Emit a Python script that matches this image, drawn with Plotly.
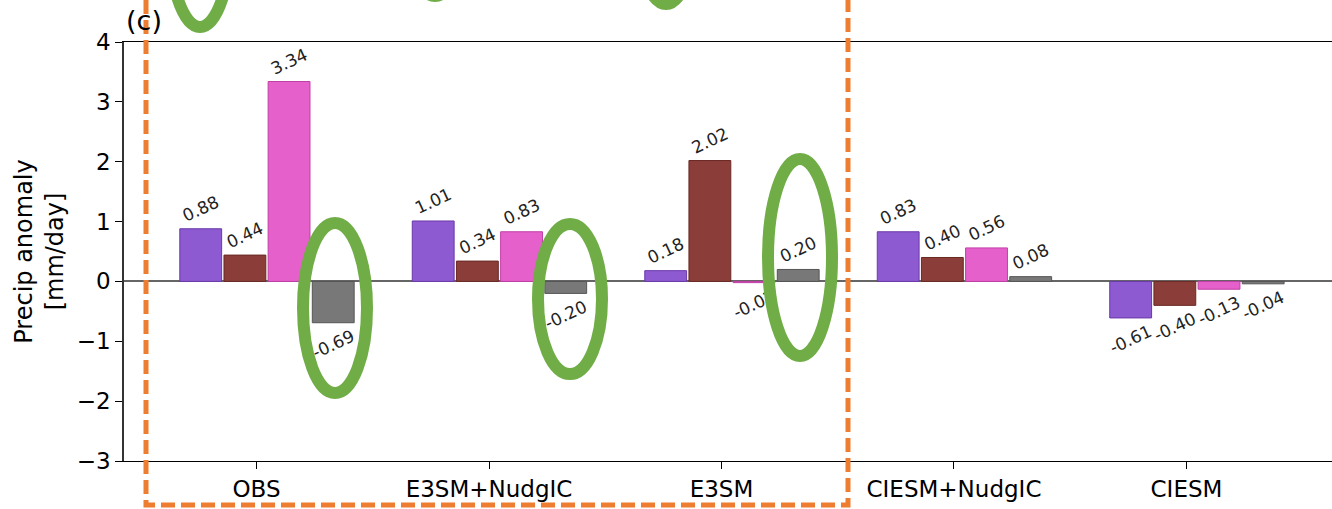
import plotly.graph_objects as go

# ---- data ----
categories = ["OBS", "E3SM+NudgIC", "E3SM", "CIESM+NudgIC", "CIESM"]
series_purple = [0.88, 1.01, 0.18, 0.83, -0.61]
series_brown = [0.44, 0.34, 2.02, 0.40, -0.40]
series_pink = [3.34, 0.83, -0.02, 0.56, -0.13]
series_gray = [-0.69, -0.20, 0.20, 0.08, -0.04]
y_ticks = [-3, -2, -1, 0, 1, 2, 3, 4]

# ---- style / layout ----
W, H = 1332, 509
ML, MR, MT, MB = 124, 0, 42, 48
PW, PH = W - ML - MR, H - MT - MB
FONT = "DejaVu Sans"

series = [
    (series_purple, "#8d5ad2", "#6a3aa8"),
    (series_brown, "#8b3e39", "#6a2823"),
    (series_pink, "#e660cc", "#c03fa6"),
    (series_gray, "#787878", "#555555"),
]
offsets = [-0.24, -0.05, 0.14, 0.33]
bar_w = 0.18

fig = go.Figure()
for (vals, col, edge), off in zip(series, offsets):
    fig.add_trace(go.Bar(
        x=[i + off for i in range(len(categories))],
        y=vals,
        width=bar_w,
        marker=dict(color=col, line=dict(color=edge, width=1)),
        text=[f"{v:.2f}" for v in vals],
        textposition="outside",
        textangle=-25,
        constraintext="none",
        cliponaxis=False,
        outsidetextfont=dict(family=FONT, size=17, color="#222222"),
        showlegend=False,
    ))


def px(x):
    return (x - ML) / PW


def py(y):
    return (MT + PH - y) / PH


shapes = []
# green ellipses (pixel boxes)
ellipses = [
    (303, 367, 223, 393),
    (538, 602, 224, 374),
    (768, 832, 159, 356),
    (168, 232, -173, 27),
    (403, 467, -200, -4),
    (634, 698, -200, 4),
]
for x0, x1, y0, y1 in ellipses:
    shapes.append(dict(type="circle", xref="paper", yref="paper",
                       x0=px(x0), x1=px(x1), y0=py(y1), y1=py(y0),
                       line=dict(color="#70ad47", width=12), layer="above"))
# orange dashed box
path = (f"M {px(146)},{py(-20)} L {px(146)},{py(505)} "
        f"L {px(848)},{py(505)} L {px(848)},{py(-20)}")
shapes.append(dict(type="path", xref="paper", yref="paper", path=path,
                   line=dict(color="#ed7d31", width=5, dash="14px,6px"),
                   layer="above"))

fig.update_layout(
    width=W, height=H,
    margin=dict(l=ML, r=MR, t=MT, b=MB, autoexpand=False),
    paper_bgcolor="white", plot_bgcolor="white",
    barmode="overlay",
    font=dict(family=FONT, size=23, color="black"),
    shapes=shapes,
    annotations=[dict(text="(c)", xref="paper", yref="paper",
                      x=px(124), y=py(21), xanchor="left", yanchor="middle",
                      showarrow=False, font=dict(family=FONT, size=27))],
)
fig.update_xaxes(
    range=[-0.57, 4.626],
    tickmode="array", tickvals=list(range(len(categories))), ticktext=categories,
    ticks="outside", ticklen=7, tickcolor="black", tickwidth=1.2,
    showline=True, linecolor="black", linewidth=1.2, mirror=True,
    showgrid=False, zeroline=False,
    tickfont=dict(family=FONT, size=23),
)
fig.update_yaxes(
    range=[-3, 4],
    tickmode="array", tickvals=y_ticks, ticktext=[f"{t}".replace("-", "\u2212") for t in y_ticks],
    ticks="outside", ticklen=7, tickcolor="black", tickwidth=1.2,
    showline=True, linecolor="#333333", linewidth=1.5, mirror=False,
    showgrid=False,
    zeroline=True, zerolinecolor="#666666", zerolinewidth=1.5,
    tickfont=dict(family=FONT, size=23),
    title=dict(text="Precip anomaly<br>[mm/day]", font=dict(family=FONT, size=24), standoff=6),
)

fig.write_html(
    "out.html",
    config={"displayModeBar": False},
    post_script="document.body.style.margin='0';document.body.style.overflow='hidden';",
)
